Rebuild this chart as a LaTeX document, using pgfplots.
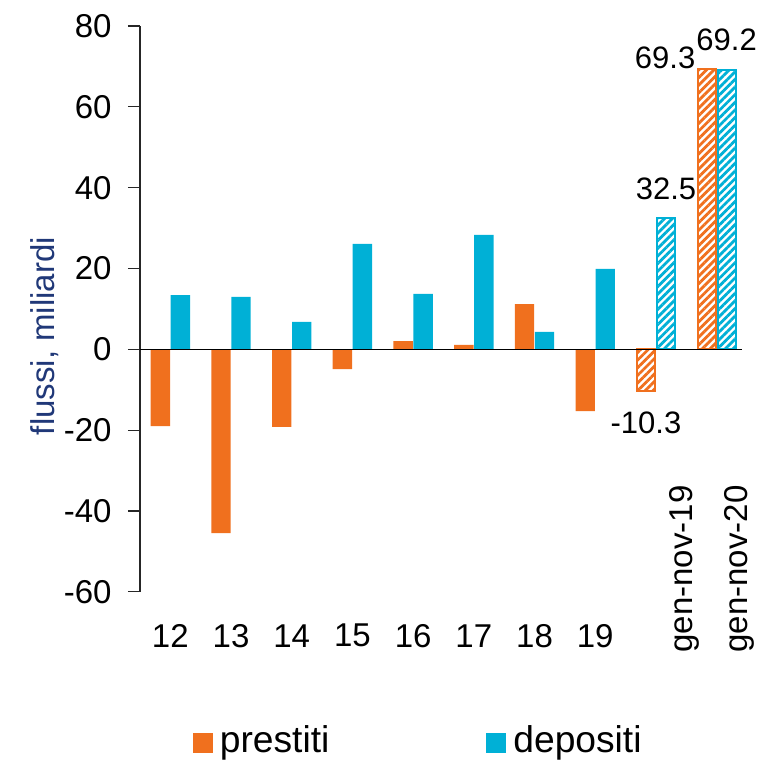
\documentclass[border=0pt]{standalone}
\usepackage{fontspec}
\setmainfont{Liberation Sans}
\usepackage{pgfplots}
\pgfplotsset{compat=1.18}
\usetikzlibrary{patterns.meta}
\definecolor{prest}{RGB}{240,112,30}
\definecolor{depos}{RGB}{0,176,214}
\definecolor{lab}{RGB}{32,56,120}
\pgfplotsset{sqleg/.style={legend image code/.code={\fill[##1] (0pt,-6pt) rectangle (10pt,4pt);}}}
\begin{document}
\begin{tikzpicture}
\useasboundingbox (0,0) rectangle (380.5pt,380.5pt);
\begin{axis}[
 at={(70pt,84.6pt)}, anchor=south west,
 width=303.5pt, height=282.9pt, scale only axis,
 xmin=-0.5, xmax=9.5, ymin=-60, ymax=80,
 clip=false,
 axis lines*=left,
 x axis line style={draw=none},
 y axis line style={line width=0.6pt, black!85},
 ytick={-60,-40,...,80},
 yticklabels={-60,-40,-20,0,20,40,60,80},
 xtick={0,...,7}, xticklabels={12,13,14,15,16,17,18,19},
 tick align=outside,
 ytick style={line width=0.6pt, black!85},
 major tick length=6pt,
 xtick style={draw=none},
 tick label style={font=\fontsize{16.5}{18}\selectfont, inner sep=0pt},
 yticklabel style={anchor=east, xshift=-8pt},
 xticklabel style={anchor=center, yshift=-16pt},
 ylabel={flussi, miliardi},
 ylabel style={at={(axis description cs:-0.1565,0.452)}, anchor=center, font=\fontsize{16.5}{18}\selectfont, text=lab, inner sep=0pt},
 legend style={at={(axis description cs:0.4625,-0.2637)}, anchor=center, draw=none, fill=none,
   font=\fontsize{18.6}{20}\selectfont, nodes={inner sep=3.5pt},
   /tikz/every even column/.append style={column sep=75pt}},
 legend columns=2,
 legend cell align=left,
]
\addplot[ybar, bar width=9.7pt, bar shift=-5pt, fill=prest, draw=none, sqleg]
 coordinates {(0,-19.0) (1,-45.5) (2,-19.2) (3,-4.9) (4,2.0) (5,1.1) (6,11.2) (7,-15.3)};
\addlegendentry{prestiti}
\addplot[ybar, bar width=9.7pt, bar shift=5pt, fill=depos, draw=none, sqleg]
 coordinates {(0,13.4) (1,13.0) (2,6.8) (3,26.1) (4,13.7) (5,28.3) (6,4.3) (7,19.9)};
\addlegendentry{depositi}
\addplot[ybar, forget plot, bar width=9pt, bar shift=-5pt, draw=prest, line width=1pt,
 pattern={Lines[angle=45,distance=2.7pt,line width=1.4pt]}, pattern color=prest]
 coordinates {(8,-10.3) (9,69.3)};
\addplot[ybar, forget plot, bar width=9pt, bar shift=5pt, draw=depos, line width=1pt,
 pattern={Lines[angle=45,distance=2.7pt,line width=1.4pt]}, pattern color=depos]
 coordinates {(8,32.5) (9,69.2)};
\draw[line width=0.8pt, black] (axis cs:-0.5,0) -- (axis cs:9.42,0);
\begin{scope}[every node/.style={font=\fontsize{15.5}{17}\selectfont, inner sep=0pt}]
\node[anchor=north] at (axis cs:8,-10.3) [xshift=-5pt, yshift=-10.5pt] {-10.3};
\node[anchor=south] at (axis cs:8,32.5) [xshift=5pt, yshift=9pt] {32.5};
\node[anchor=south] at (axis cs:9,69.2) [xshift=5pt, yshift=9pt] {69.2};
\node[anchor=south east] at (axis cs:9,69.3) [xshift=-10.5pt] {69.3};
\end{scope}
\begin{scope}[every node/.style={font=\fontsize{16.5}{18}\selectfont, inner sep=0pt}]
\node[yshift=-30.5pt, rotate=90, anchor=west] at (axis cs:8.476,-60) {gen-nov-19};
\node[yshift=-30.5pt, rotate=90, anchor=west] at (axis cs:9.382,-60) {gen-nov-20};
\end{scope}
\end{axis}
\end{tikzpicture}
\end{document}
